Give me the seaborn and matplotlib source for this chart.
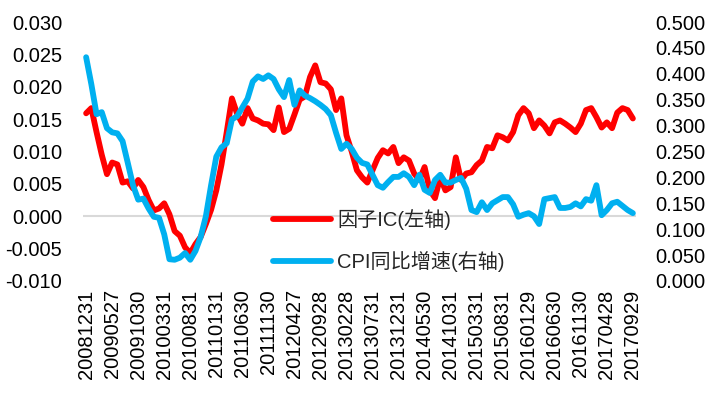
import matplotlib
matplotlib.use('Agg')
import matplotlib.pyplot as plt
import matplotlib.ticker as mticker
import pandas as pd
import seaborn as sns

tick_dates = ['20081231', '20090527', '20091030', '20100331', '20100831', '20110131',
              '20110630', '20111130', '20120427', '20120928', '20130228', '20130731',
              '20131231', '20140530', '20141031', '20150331', '20150831', '20160129',
              '20160630', '20161130', '20170428', '20170929']

# monthly factor IC (left axis)
factor_ic = [0.0159, 0.0167, 0.0130, 0.0095, 0.0065, 0.0083, 0.0080, 0.0052, 0.0054, 0.0043,
             0.0056, 0.0045, 0.0025, 0.0009, 0.0012, 0.0020, 0.0003, -0.0023, -0.0030, -0.0048,
             -0.0057, -0.0043, -0.0032, -0.0012, 0.0010, 0.0040, 0.0080, 0.0130, 0.0182, 0.0158,
             0.0143, 0.0167, 0.0151, 0.0148, 0.0143, 0.0142, 0.0133, 0.0168, 0.0130, 0.0135,
             0.0157, 0.0180, 0.0185, 0.0215, 0.0233, 0.0207, 0.0205, 0.0196, 0.0164, 0.0182,
             0.0125, 0.0100, 0.0071, 0.0060, 0.0052, 0.0071, 0.0090, 0.0102, 0.0097, 0.0107,
             0.0082, 0.0091, 0.0086, 0.0066, 0.0056, 0.0076, 0.0040, 0.0028, 0.0060, 0.0040,
             0.0045, 0.0091, 0.0056, 0.0066, 0.0068, 0.0079, 0.0086, 0.0107, 0.0105, 0.0125,
             0.0122, 0.0117, 0.0130, 0.0156, 0.0167, 0.0159, 0.0136, 0.0148, 0.0140, 0.0128,
             0.0145, 0.0148, 0.0143, 0.0137, 0.0130, 0.0143, 0.0164, 0.0167, 0.0153, 0.0137,
             0.0145, 0.0136, 0.0160, 0.0167, 0.0164, 0.0151]

# CPI year-on-year growth (right axis)
cpi_yoy = [0.432, 0.380, 0.322, 0.326, 0.295, 0.287, 0.285, 0.270, 0.228, 0.185,
           0.157, 0.159, 0.140, 0.124, 0.122, 0.090, 0.042, 0.041, 0.045, 0.054,
           0.041, 0.058, 0.085, 0.125, 0.185, 0.240, 0.258, 0.266, 0.312, 0.318,
           0.335, 0.352, 0.385, 0.395, 0.390, 0.397, 0.390, 0.370, 0.355, 0.388,
           0.340, 0.368, 0.358, 0.353, 0.347, 0.340, 0.332, 0.320, 0.286, 0.255,
           0.265, 0.255, 0.238, 0.228, 0.225, 0.205, 0.185, 0.180, 0.191, 0.201,
           0.201, 0.208, 0.201, 0.185, 0.205, 0.176, 0.170, 0.195, 0.205, 0.190,
           0.190, 0.195, 0.199, 0.178, 0.137, 0.133, 0.152, 0.137, 0.150, 0.156,
           0.162, 0.162, 0.148, 0.124, 0.128, 0.131, 0.125, 0.110, 0.158, 0.160,
           0.162, 0.141, 0.141, 0.143, 0.150, 0.144, 0.158, 0.155, 0.185, 0.127,
           0.137, 0.150, 0.153, 0.145, 0.137, 0.131]

df = pd.DataFrame({'idx': range(len(factor_ic)), 'ic': factor_ic, 'cpi': cpi_yoy})

sns.set_theme(style='white')
plt.rcParams['font.family'] = ['Liberation Sans', 'Noto Sans CJK SC']
plt.rcParams['axes.unicode_minus'] = False

fig, ax = plt.subplots(figsize=(7.2, 3.96), dpi=100)
fig.subplots_adjust(left=83/720, right=636/720, top=1-22/396, bottom=1-281/396)
ax2 = ax.twinx()

ax.axhline(0, color='#d9d9d9', lw=1.5, zorder=0)
sns.lineplot(data=df, x='idx', y='ic', ax=ax, color='#ff0000', lw=4.2)
h1 = ax.lines[-1]
sns.lineplot(data=df, x='idx', y='cpi', ax=ax2, color='#00b0f0', lw=4.2)
h2 = ax2.lines[-1]

ax.set_ylim(-0.010, 0.030)
ax2.set_ylim(0, 0.5)
ax.set_xlim(-0.6, 105.6)
ax.set_yticks([i * 0.005 for i in range(-2, 7)])
ax2.set_yticks([i * 0.05 for i in range(11)])
ax.yaxis.set_major_formatter(mticker.FormatStrFormatter('%.3f'))
ax2.yaxis.set_major_formatter(mticker.FormatStrFormatter('%.3f'))
ax.set_xticks(range(0, 106, 5))
ax.set_xticklabels(tick_dates, rotation=90)
ax.set_xlabel('')
ax.set_ylabel('')
ax2.set_ylabel('')

for a in (ax, ax2):
    for s in a.spines.values():
        s.set_visible(False)
    a.grid(False)
ax.tick_params(axis='both', length=0, labelsize=14.5, colors='black')
ax.tick_params(axis='y', pad=15)
ax.tick_params(axis='x', pad=6)
ax2.tick_params(axis='y', length=0, labelsize=14.5, pad=14, colors='black')

ax2.legend([h1, h2], ['因子IC(左轴)', 'CPI同比增速(右轴)'], loc='center left',
           bbox_to_anchor=(0.31, 0.155), frameon=False, fontsize=14.5,
           handlelength=2.9, handletextpad=0.3, labelspacing=1.05)

plt.savefig('out.png', dpi=100)
